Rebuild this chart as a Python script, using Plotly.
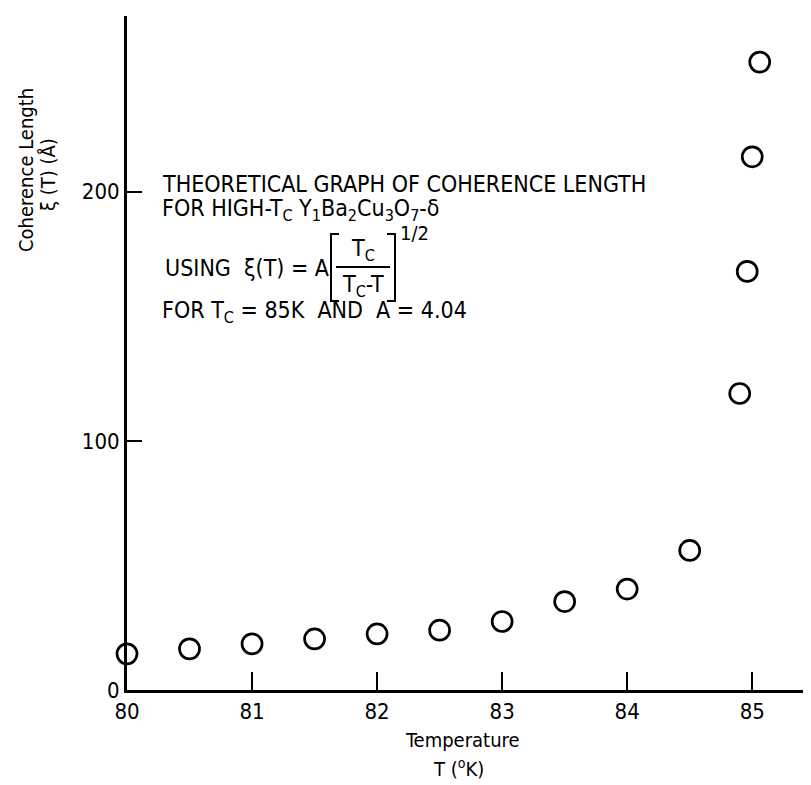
import plotly.graph_objects as go

# Temperature (K) and coherence length (Angstrom)
temperature = [80.0, 80.5, 81.0, 81.5, 82.0, 82.5, 83.0, 83.5, 84.0, 84.5, 84.9, 84.96, 85.0, 85.06]
coherence = [14.5, 16.5, 18.5, 20.5, 22.5, 24.0, 27.5, 35.5, 40.5, 56.0, 119, 168, 214, 252]

x_ticks = [80, 81, 82, 83, 84, 85]
y_ticks = [0, 100, 200]

FONT = "DejaVu Sans Condensed, Roboto, sans-serif"

# page has an 8px body margin, so the figure is shrunk by that much
OFF = 8
L, T, W, H = 127, 16, 684, 674  # plot area on the page
X0, X1 = 80.0, 85.47
Y0, Y1 = 0.0, 270.5


def fx(x):
    return (x - L) / W


def fy(y):
    return (T + H - y) / H


fig = go.Figure()
fig.add_trace(
    go.Scatter(
        x=temperature,
        y=coherence,
        mode="markers",
        marker=dict(symbol="circle-open", size=20, color="black", line=dict(width=2.7, color="black")),
        cliponaxis=False,
        showlegend=False,
    )
)

axis_style = dict(
    ticks="inside",
    tickwidth=2,
    tickcolor="black",
    showline=True,
    linecolor="black",
    linewidth=3,
    showgrid=False,
    zeroline=False,
    tickfont=dict(family=FONT, size=22, color="black"),
)
fig.update_xaxes(range=[X0, X1], tickvals=x_ticks, ticklen=18, **axis_style)
fig.update_yaxes(range=[Y0, Y1], tickvals=y_ticks, ticklen=15, **axis_style)

ann_font = dict(family=FONT, size=23, color="black")


def note(x, y, text, **kw):
    opts = dict(xref="paper", yref="paper", showarrow=False, font=ann_font,
                xanchor="center", yanchor="middle")
    opts.update(kw)
    fig.add_annotation(x=fx(x), y=fy(y), text=text, **opts)


note(160, 184, "THEORETICAL GRAPH OF COHERENCE LENGTH", xanchor="left")
note(160, 210, "FOR HIGH-T<sub>C</sub> Y<sub>1</sub>Ba<sub>2</sub>Cu<sub>3</sub>O<sub>7</sub>-δ", xanchor="left")
note(163, 268, "USING  ξ(T) = A", xanchor="left")
note(160, 312, "FOR T<sub>C</sub> = 85K  AND  A = 4.04", xanchor="left")

# the fraction inside brackets
note(363, 250, "T<sub>C</sub>")
note(363, 286, "T<sub>C</sub>-T")
note(398, 233, "1/2", xanchor="left", font=dict(family=FONT, size=20, color="black"))
line = dict(color="black", width=2)
ln = dict(xref="paper", yref="paper", line=line)
fig.add_shape(type="line", x0=fx(336), x1=fx(390), y0=fy(267), y1=fy(267), **ln)
fig.add_shape(type="path", path=f"M {fx(339)} {fy(234)} L {fx(331)} {fy(234)} L {fx(331)} {fy(301)} L {fx(339)} {fy(301)}", **ln)
fig.add_shape(type="path", path=f"M {fx(387)} {fy(234)} L {fx(395)} {fy(234)} L {fx(395)} {fy(301)} L {fx(387)} {fy(301)}", **ln)

# axis titles
title_font = dict(family=FONT, size=20, color="black")
note(462, 740, "Temperature", font=title_font)
note(458, 768, "T (<sup>o</sup>K)", font=title_font)
note(26, 170, "Coherence Length", textangle=-90, font=title_font)
note(48, 175, "ξ (T) (Å)", textangle=-90, font=title_font)

fig.update_layout(
    width=811 - OFF,
    height=785 - OFF,
    margin=dict(l=L - OFF, r=811 - L - W, t=T - OFF, b=785 - T - H),
    plot_bgcolor="white",
    paper_bgcolor="white",
)

fig.write_html("out.html")
